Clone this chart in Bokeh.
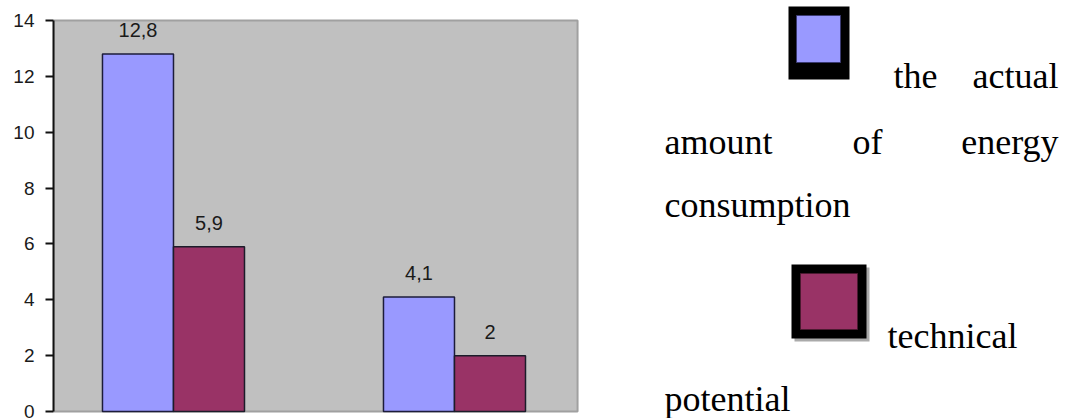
from bokeh.plotting import figure
from bokeh.models import Range1d, FixedTicker, LabelSet, Label, BoxAnnotation, ColumnDataSource
from bokeh.layouts import row
from bokeh.core.properties import value
from bokeh.embed import file_html
from bokeh.resources import INLINE

# ---- data ----
categories = ["1", "2"]
series_names = ["the actual amount of energy consumption", "technical potential"]
actual = [12.8, 4.1]
technical = [5.9, 2.0]
y_ticks = [0, 2, 4, 6, 8, 10, 12, 14]
y_min, y_max = 0, 14

def fmt(v):
    return ("%g" % v).replace(".", ",")

BLUE = "#9999ff"
RED = "#993366"
bar_w = 0.2527
idx = list(range(len(categories)))

# frame spans the full height; the plot area (0..14) maps to page y 411..20
px_per_unit = 391 / 14.0
x_lo, x_hi = -0.427, 1.438
p = figure(width=600, height=418,
           x_range=Range1d(x_lo, x_lo + 527 / 281.0),
           y_range=Range1d(y_min - 7 / px_per_unit, y_max + 20 / px_per_unit),
           x_axis_type=None, toolbar_location=None, output_backend="svg",
           background_fill_color="white", border_fill_color="white",
           min_border_left=53, min_border_right=20, min_border_top=0, min_border_bottom=0)
p.ygrid.visible = False
p.outline_line_color = None

# plot area
p.quad(left=[x_lo], right=[x_hi], bottom=[y_min], top=[y_max],
       fill_color="#c0c0c0", line_color="#a0a0a0", line_width=2)

src_a = ColumnDataSource(dict(x=[i - bar_w / 2 for i in idx], top=actual, lab=[fmt(v) for v in actual]))
src_t = ColumnDataSource(dict(x=[i + bar_w / 2 for i in idx], top=technical, lab=[fmt(v) for v in technical]))

p.vbar(x="x", top="top", width=bar_w, source=src_a, fill_color=BLUE, line_color="#1c1c3a", line_width=1.5)
p.vbar(x="x", top="top", width=bar_w, source=src_t, fill_color=RED, line_color="#1c1c2a", line_width=1.5)

for s in (src_a, src_t):
    p.add_layout(LabelSet(x="x", y="top", text="lab", source=s, y_offset=17,
                          text_align="center", text_baseline="alphabetic",
                          text_font=value("Liberation Sans"), text_font_size="20px",
                          text_color="#1a1a1a"))

ax = p.yaxis[0]
ax.ticker = FixedTicker(ticks=y_ticks)
ax.bounds = (y_min, y_max)
ax.major_label_text_font = "Liberation Sans"
ax.major_label_text_font_size = "19px"
ax.major_label_text_color = "#1a1a1a"
ax.axis_line_color = "#111111"
ax.axis_line_width = 2
ax.major_tick_line_color = "#111111"
ax.major_tick_line_width = 2
ax.major_tick_out = 8
ax.major_tick_in = 0
ax.minor_tick_out = 0
ax.minor_tick_in = 0
ax.major_label_standoff = 11

# ---- legend panel (coordinates = page pixels, x offset by 600) ----
leg = figure(width=466, height=418, x_range=Range1d(0, 466), y_range=Range1d(418, 0),
             x_axis_type=None, y_axis_type=None, toolbar_location=None, output_backend="svg",
             min_border=0, outline_line_color=None, background_fill_color="white",
             border_fill_color="white")
leg.grid.visible = False

def box(l, r, t, b, fill, line=None, lw=0):
    leg.add_layout(BoxAnnotation(left=l, right=r, top=t, bottom=b, fill_color=fill, fill_alpha=1.0,
                                 line_color=line, line_width=lw, line_alpha=1.0 if line else 0))

# blue swatch
box(188, 249, 6, 79, "black")
box(196, 240, 15, 62, BLUE, "#3a3a70", 1)
# red swatch with shadow
box(194, 269, 267, 341, "#aaaaaa")
box(191, 266, 264, 338, "black")
box(200, 257, 273, 329, RED, "#4a1a30", 1)

words1 = series_names[0].split()   # the actual amount of energy consumption
words2 = series_names[1].split()   # technical potential

lines = [
    (293, 75, words1[0], "left"),
    (458, 75, words1[1], "right"),
    (64, 141, words1[2], "left"),
    (252, 141, words1[3], "left"),
    (458, 141, words1[4], "right"),
    (64, 204, words1[5], "left"),
    (287, 335, words2[0], "left"),
    (64, 398, words2[1], "left"),
]
for x, y, t, al in lines:
    leg.add_layout(Label(x=x, y=y, text=t, text_align=al, text_baseline="alphabetic",
                         text_font="Liberation Serif", text_font_size="36px",
                         text_color="black"))

layout = row(p, leg)
open("out.html", "w").write(file_html(layout, INLINE))
